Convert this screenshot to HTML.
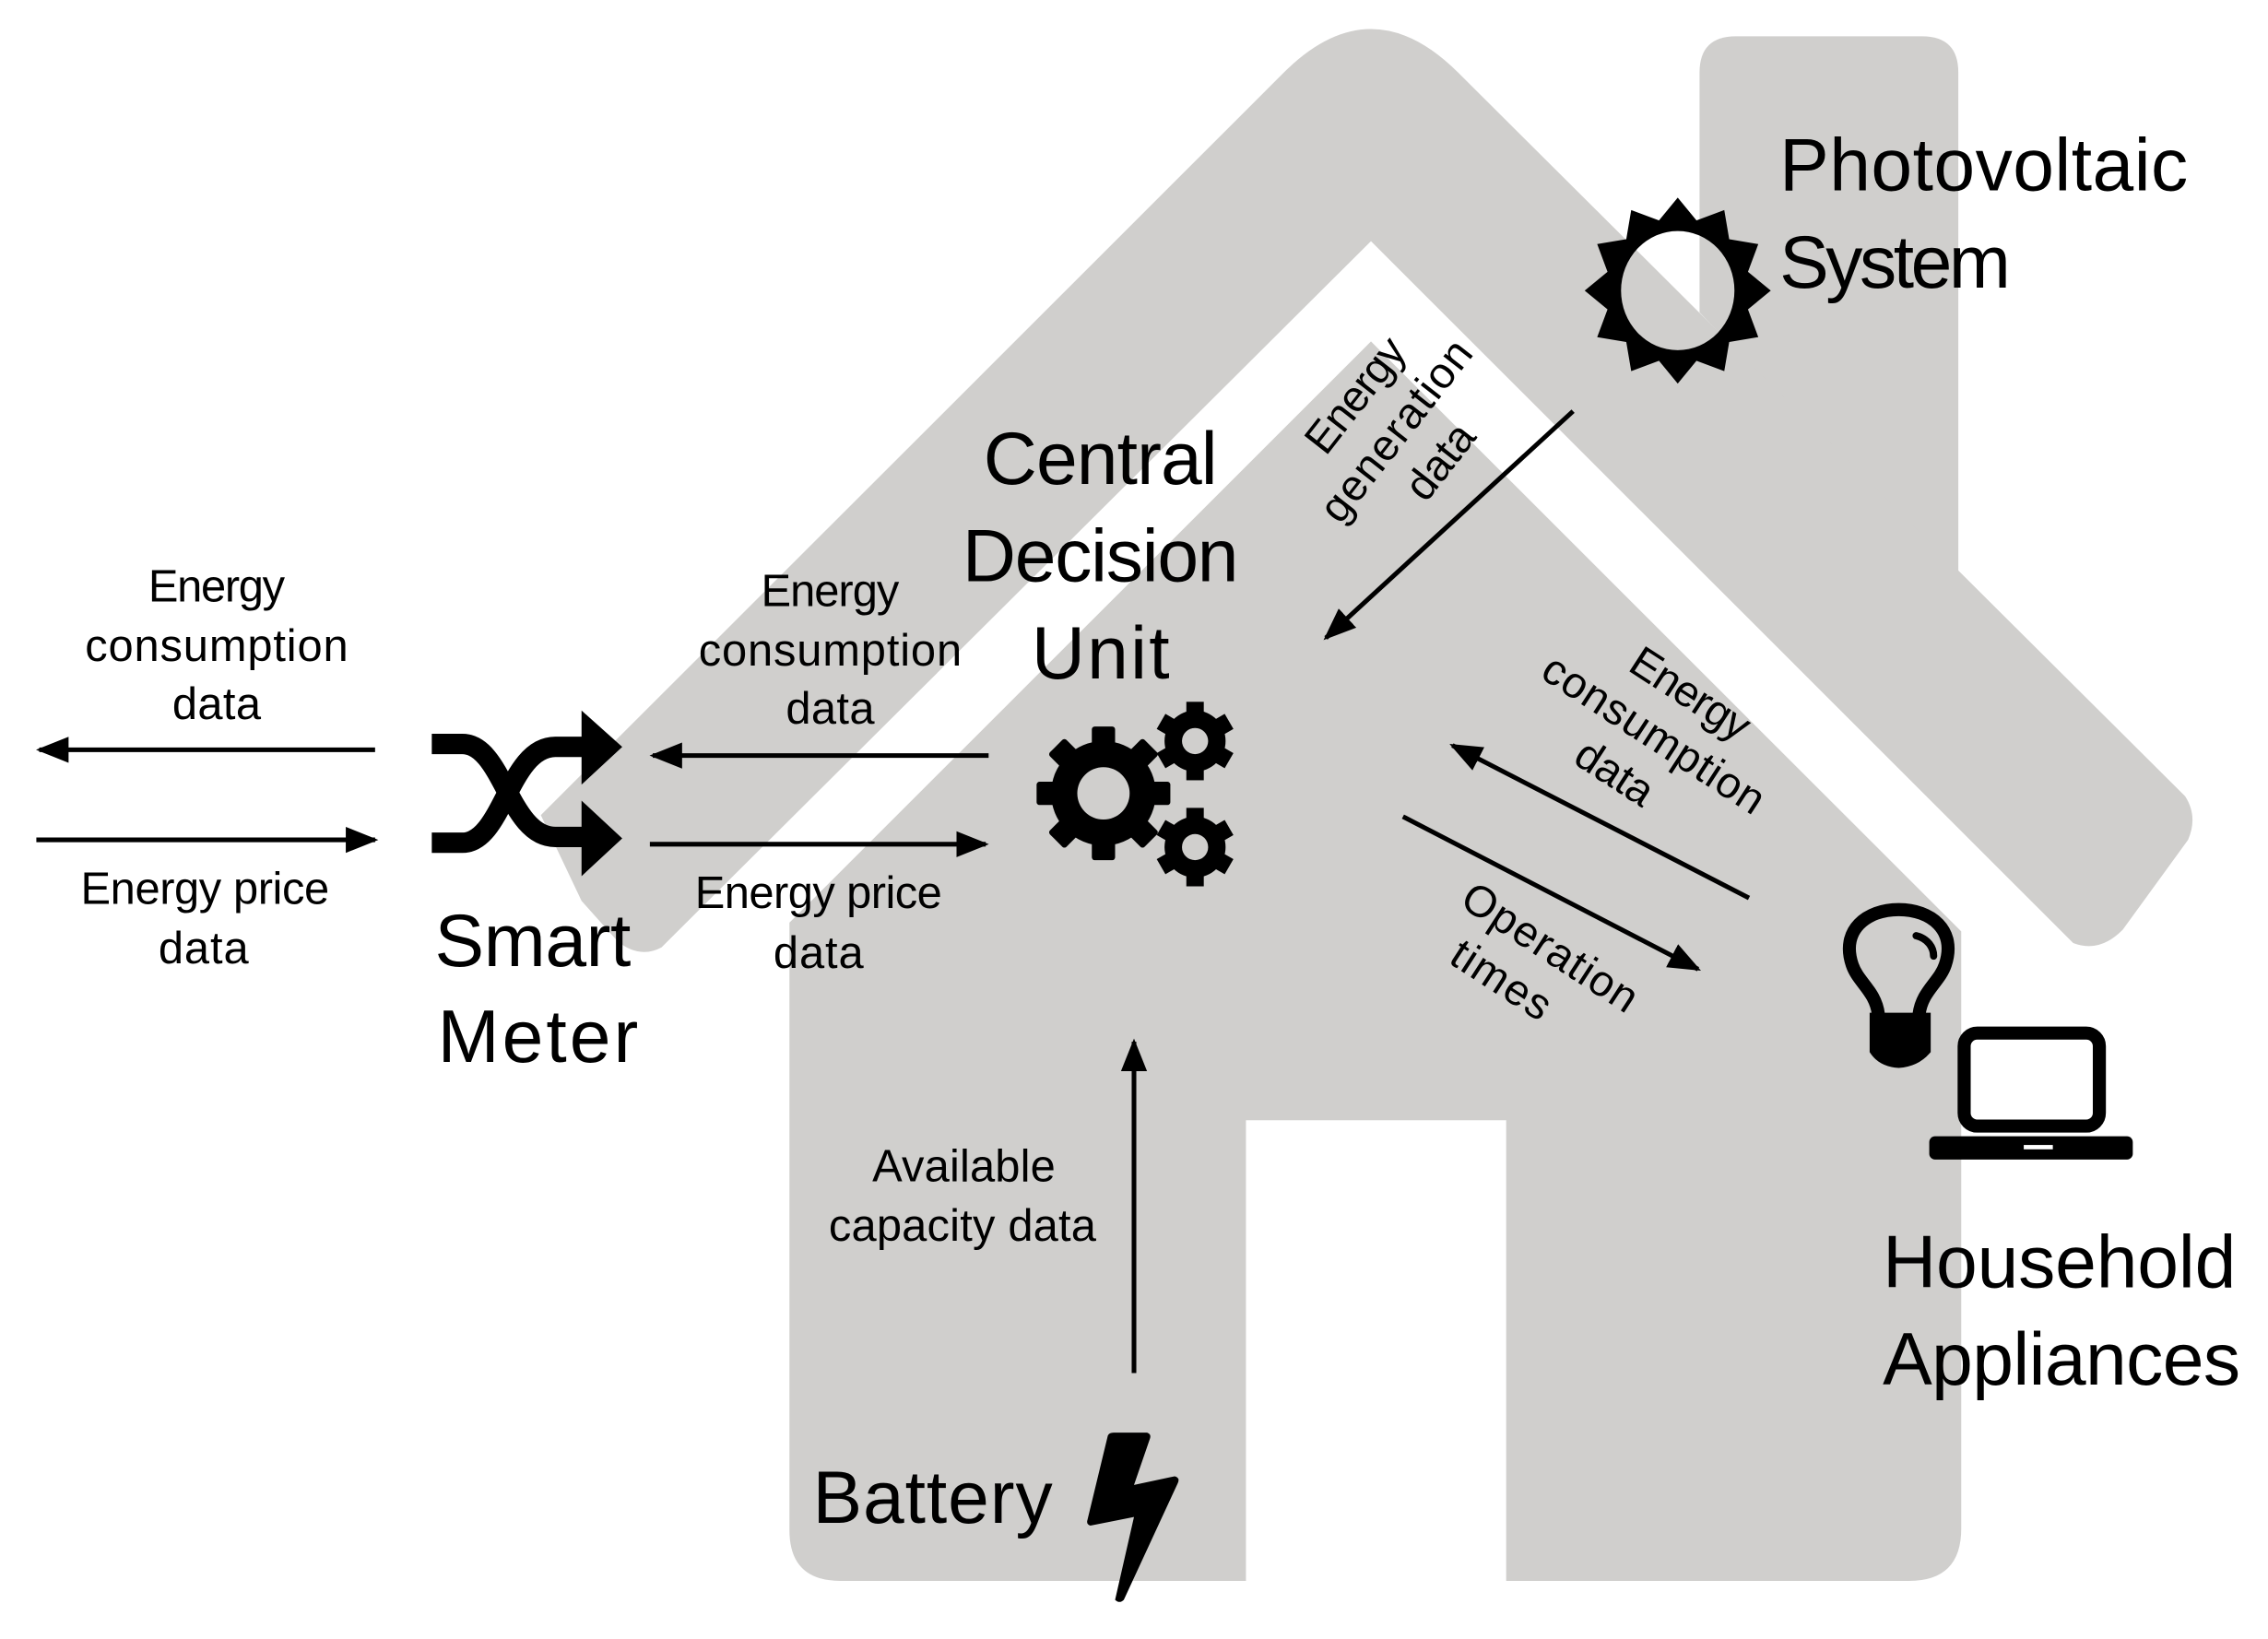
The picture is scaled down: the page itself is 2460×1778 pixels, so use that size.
<!DOCTYPE html>
<html><head><meta charset="utf-8"><style>
html,body{margin:0;padding:0;background:#fff;}
svg{display:block;}
text{font-family:"Liberation Sans",sans-serif;fill:#000;}
</style></head><body>
<svg width="2460" height="1778" viewBox="0 0 1560 1128" preserveAspectRatio="none" xmlns="http://www.w3.org/2000/svg">
<defs>
<marker id="ah" viewBox="0 0 20 16" refX="18" refY="8" markerWidth="7" markerHeight="6" markerUnits="strokeWidth" orient="auto">
<path d="M0,0 L20,8 L0,16 Z" fill="#000"/>
</marker>
</defs>
<g fill="#d0cfcd">
<path d="M1169,215 V50 Q1169,25 1194,25 H1322 Q1347,25 1347,50 V400 Z"/>
<path d="M372,561 L883,50 Q943,-10 1003,50 L1503,548 Q1512,562 1505,578 L1460,640 Q1444,656 1426,649 L943,166 L455,652 Q440,660 425,648 L400,620 Z"/>
<path d="M543,635 L943,235 L1349,641 V1052 Q1349,1088 1313,1088 H1036 V771 H857 V1088 H578 Q543,1088 543,1053 Z"/>
</g>

<g stroke="#000" stroke-width="3.2" fill="none" marker-end="url(#ah)">
<line x1="258" y1="516" x2="27" y2="516"/>
<line x1="25" y1="578" x2="258" y2="578"/>
<line x1="680" y1="520" x2="449" y2="520"/>
<line x1="447" y1="581" x2="678" y2="581"/>
<line x1="1082" y1="283" x2="912" y2="439"/>
<line x1="1203" y1="618" x2="999" y2="513"/>
<line x1="965" y1="562" x2="1168" y2="667"/>
<line x1="780" y1="945" x2="780" y2="717"/>
</g>

<g fill="none" stroke="#000" stroke-width="14">
<path d="M297,512 H318 C346,512 350,576 382,576 H405"/>
<path d="M297,580 H318 C346,580 350,514 382,514 H405"/>
</g>
<path d="M400,489 L428,514 L400,540 Z M400,551 L428,577 L400,603 Z" fill="#000"/>

<g fill="#000">
<g transform="translate(759,546)">
<circle r="36"/>
<g id="t8"><rect x="-8" y="-46" width="16" height="20" rx="2"/></g>
<use href="#t8" transform="rotate(45)"/><use href="#t8" transform="rotate(90)"/><use href="#t8" transform="rotate(135)"/>
<use href="#t8" transform="rotate(180)"/><use href="#t8" transform="rotate(225)"/><use href="#t8" transform="rotate(270)"/><use href="#t8" transform="rotate(315)"/>
<circle r="18" fill="#d0cfcd"/>
</g>
<g transform="translate(822,510)">
<circle r="21"/>
<g id="t6"><rect x="-6" y="-27" width="12" height="12"/></g>
<use href="#t6" transform="rotate(60)"/><use href="#t6" transform="rotate(120)"/><use href="#t6" transform="rotate(180)"/><use href="#t6" transform="rotate(240)"/><use href="#t6" transform="rotate(300)"/>
<circle r="9" fill="#d0cfcd"/>
</g>
<g transform="translate(822,583)">
<circle r="21"/>
<use href="#t6"/><use href="#t6" transform="rotate(60)"/><use href="#t6" transform="rotate(120)"/><use href="#t6" transform="rotate(180)"/><use href="#t6" transform="rotate(240)"/><use href="#t6" transform="rotate(300)"/>
<circle r="9" fill="#d0cfcd"/>
</g>
</g>

<path transform="translate(1154,200)" fill="#000" fill-rule="evenodd" d="M0,-64 L12.9,-48.3 L32,-55.4 L35.4,-35.4 L55.4,-32 L48.3,-12.9 L64,0 L48.3,12.9 L55.4,32 L35.4,35.4 L32,55.4 L12.9,48.3 L0,64 L-12.9,48.3 L-32,55.4 L-35.4,35.4 L-55.4,32 L-48.3,12.9 L-64,0 L-48.3,-12.9 L-55.4,-32 L-35.4,-35.4 L-32,-55.4 L-12.9,-48.3 Z M-39,0 A39,41 0 1,0 39,0 A39,41 0 1,0 -39,0 Z"/>

<path d="M1292,698 C1290,682 1278,676 1274,664 C1266,640 1284,626 1306,626 C1328,626 1346,640 1338,664 C1334,676 1322,682 1320,698" fill="none" stroke="#000" stroke-width="9"/>
<path d="M1318,644 C1326,646 1330,652 1330,658" fill="none" stroke="#000" stroke-width="5" stroke-linecap="round"/>
<path d="M1286,697 H1328 V724 Q1320,734 1306,735 Q1292,734 1286,724 Z" fill="#000"/>

<rect x="1351" y="711" width="93" height="64" rx="9" fill="none" stroke="#000" stroke-width="9"/>
<rect x="1327" y="782" width="140" height="16" rx="4" fill="#000"/>
<rect x="1392" y="788" width="20" height="3" fill="#fff"/>

<path d="M762,988 Q763,986 766,986 L789,986 Q792,987 791,990 L780,1022 L808,1016 Q812,1017 810,1021 L773,1101 Q770,1104 767,1101 L780,1044 L750,1050 Q747,1049 748,1046 Z" fill="#000"/>

<g font-size="31" text-anchor="middle" lengthAdjust="spacingAndGlyphs">
<text x="149" y="414" textLength="94">Energy</text>
<text x="149" y="455" textLength="181">consumption</text>
<text x="149" y="495" textLength="61">data</text>
<text x="141" y="622" textLength="171">Energy price</text>
<text x="140" y="663" textLength="62">data</text>
<text x="571" y="417" textLength="95">Energy</text>
<text x="571" y="458" textLength="181">consumption</text>
<text x="571" y="498" textLength="61">data</text>
<text x="563" y="625" textLength="170">Energy price</text>
<text x="563" y="666" textLength="62">data</text>
<text x="663" y="813" textLength="126">Available</text>
<text x="662" y="854" textLength="184">capacity data</text>
</g>
<g font-size="51" lengthAdjust="spacingAndGlyphs">
<text x="757" y="333" text-anchor="middle" textLength="161">Central</text>
<text x="757" y="400" text-anchor="middle" textLength="190">Decision</text>
<text x="757" y="467" text-anchor="middle" textLength="95">Unit</text>
<text x="299" y="665" textLength="135">Smart</text>
<text x="301" y="731" textLength="138">Meter</text>
<text x="1224" y="131" textLength="281">Photovoltaic</text>
<text x="1224" y="198" textLength="159">System</text>
<text x="1295" y="886" textLength="243">Household</text>
<text x="1295" y="953" textLength="246">Appliances</text>
<text x="559" y="1048" textLength="165">Battery</text>
</g>
<g font-size="30" text-anchor="middle" lengthAdjust="spacingAndGlyphs">
<g transform="translate(961,297) rotate(-52)">
<text x="2" y="-28" textLength="92">Energy</text>
<text x="0" y="9" textLength="150">generation</text>
<text x="2" y="46" textLength="58">data</text>
</g>
<g transform="translate(1137,506) rotate(33)">
<text x="6" y="-28" textLength="92">Energy</text>
<text x="0" y="9" textLength="176">consumption</text>
<text x="-8" y="46" textLength="58">data</text>
</g>
<g transform="translate(1052,663) rotate(33)">
<text x="6" y="-7" textLength="138">Operation</text>
<text x="-10" y="30" textLength="76">times</text>
</g>
</g>
</svg>
</body></html>
